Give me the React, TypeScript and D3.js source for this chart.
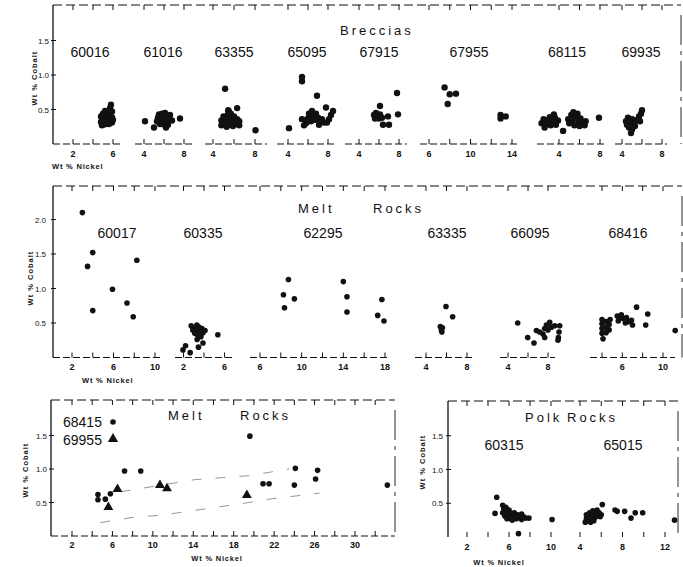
import React from "react";
import * as d3 from "d3";

type P = [number, number];

// ---------- Breccias (wt % Ni, wt % Co) ----------
const b60016: P[] = [[4.8,0.32],[4.8,0.40],[5.0,0.28],[5.0,0.36],[5.0,0.44],[5.3,0.29],[5.3,0.37],[5.3,0.45],[5.6,0.29],[5.6,0.37],[5.6,0.45],[5.9,0.31],[5.9,0.39],[5.9,0.47],[6.0,0.35],[5.7,0.52],[5.8,0.57],[5.2,0.48],[4.9,0.27],[5.15,0.33],[5.45,0.41],[5.75,0.33],[5.45,0.33]];
const b61016: P[] = [[5.4,0.38],[5.5,0.43],[5.7,0.35],[5.8,0.44],[5.9,0.30],[6.0,0.38],[6.1,0.45],[6.2,0.33],[6.3,0.40],[6.4,0.28],[6.5,0.36],[6.6,0.42],[6.8,0.34],[5.6,0.29],[6.1,0.27],[5.3,0.33],[5.85,0.39],[6.25,0.37],[4.1,0.33],[5.0,0.24],[6.2,0.24],[7.6,0.37]];
const b63355: P[] = [[4.8,0.27],[4.8,0.34],[5.0,0.40],[5.1,0.30],[5.3,0.25],[5.3,0.35],[5.4,0.42],[5.6,0.28],[5.6,0.36],[5.7,0.44],[5.9,0.26],[5.9,0.34],[6.0,0.40],[6.2,0.29],[6.3,0.36],[6.5,0.27],[6.5,0.33],[5.5,0.47],[5.15,0.80],[5.45,0.49],[6.3,0.52],[8.05,0.20]];
const b65095: P[] = [[5.8,0.30],[6.0,0.37],[6.1,0.44],[6.3,0.33],[6.4,0.48],[6.5,0.40],[6.7,0.35],[6.8,0.44],[7.0,0.38],[7.2,0.33],[7.4,0.36],[7.6,0.31],[7.9,0.31],[8.1,0.36],[8.3,0.42],[8.5,0.48],[5.6,0.27],[7.1,0.28],[5.4,0.91],[5.4,0.97],[6.9,0.70],[7.8,0.53],[4.1,0.23],[5.4,0.36]];
const b67915: P[] = [[5.5,0.42],[5.7,0.45],[5.9,0.40],[6.1,0.43],[5.6,0.37],[6.0,0.37],[6.3,0.38],[6.1,0.55],[6.9,0.40],[6.4,0.28],[7.0,0.28],[7.8,0.74],[7.9,0.43]];
const b67955: P[] = [[7.5,0.82],[8.0,0.72],[8.6,0.73],[7.8,0.58],[12.9,0.42],[12.9,0.37],[13.4,0.40]];
const b68115: P[] = [[2.3,0.30],[2.5,0.36],[2.7,0.28],[2.9,0.34],[3.1,0.39],[3.2,0.27],[3.4,0.33],[3.6,0.38],[3.7,0.28],[3.9,0.34],[2.6,0.24],[3.5,0.43],[4.9,0.36],[5.0,0.30],[5.2,0.42],[5.3,0.33],[5.5,0.27],[5.6,0.38],[5.8,0.44],[5.9,0.32],[6.1,0.37],[6.3,0.30],[6.5,0.27],[6.6,0.33],[5.4,0.46],[6.0,0.26],[4.4,0.19],[7.9,0.38]];
const b69935: P[] = [[4.4,0.33],[4.6,0.38],[4.8,0.30],[5.0,0.36],[5.2,0.31],[4.7,0.24],[5.0,0.21],[4.9,0.16],[5.3,0.26],[5.5,0.35],[5.7,0.40],[5.9,0.44],[6.0,0.49],[5.8,0.33],[4.5,0.28],[5.05,0.28]];

// ---------- Melt rocks ----------
const m60017: P[] = [[3.0,2.10],[4.0,1.52],[3.5,1.32],[8.25,1.41],[5.9,0.99],[4.0,0.68],[7.3,0.79],[7.9,0.59]];
const m60335: P[] = [[3.4,0.39],[3.0,0.42],[3.8,0.42],[3.3,0.47],[3.6,0.35],[3.1,0.35],[3.9,0.36],[3.5,0.44],[4.1,0.39],[2.9,0.40],[3.4,0.32],[3.7,0.30],[2.75,0.46],[5.35,0.33],[3.33,0.26],[3.9,0.21],[3.46,0.15],[2.65,0.07],[1.95,0.11],[2.2,0.17]];
const m62295: P[] = [[8.73,1.13],[8.25,0.91],[8.35,0.72],[9.3,0.85],[14.0,1.10],[14.35,0.88],[14.35,0.66],[17.7,0.84],[17.3,0.61],[17.9,0.53]];
const m63335: P[] = [[5.95,0.74],[6.6,0.59],[5.4,0.45],[5.5,0.40],[5.6,0.43],[5.55,0.37]];
const m66095: P[] = [[4.97,0.50],[5.97,0.29],[6.6,0.21],[6.84,0.39],[7.17,0.37],[7.5,0.34],[7.67,0.42],[7.84,0.47],[8.17,0.51],[8.34,0.44],[8.67,0.46],[9.17,0.46],[9.1,0.37],[9.04,0.29],[9.0,0.25],[7.67,0.29],[8.0,0.40]];
const m68416: P[] = [[4.0,0.35],[4.0,0.42],[4.0,0.49],[4.0,0.55],[4.4,0.36],[4.4,0.44],[4.4,0.52],[4.7,0.40],[4.7,0.48],[4.8,0.55],[4.1,0.27],[5.5,0.60],[5.8,0.58],[5.6,0.53],[6.1,0.56],[6.4,0.58],[6.6,0.52],[6.9,0.54],[7.0,0.47],[5.9,0.62],[6.3,0.50],[7.4,0.73],[8.5,0.63],[8.3,0.47],[11.2,0.39]];

// ---------- Melt rocks (bottom left) ----------
const m68415: P[] = [[4.57,0.62],[4.57,0.54],[5.3,0.55],[5.8,0.63],[7.2,0.97],[8.8,0.97],[19.6,1.49],[20.9,0.78],[21.5,0.78],[24.0,0.76],[24.1,1.01],[26.1,0.85],[26.3,0.98],[33.2,0.76]];
const m69955: P[] = [[5.6,0.43],[6.5,0.70],[10.7,0.76],[11.4,0.71],[19.3,0.61]];
const envelopeUpper: P[] = [[6.8,0.66],[14.1,0.84],[19.5,0.90],[23.5,1.0]];
const envelopeLower: P[] = [[4.8,0.20],[8.1,0.28],[10.8,0.31],[19.1,0.49],[21.5,0.55],[26.5,0.64]];

// ---------- Polk rocks ----------
const p60315: P[] = [[5.4,0.47],[5.5,0.42],[5.7,0.44],[5.4,0.36],[5.7,0.37],[6.0,0.40],[5.6,0.31],[5.9,0.33],[6.2,0.35],[5.8,0.27],[6.1,0.28],[6.4,0.30],[6.5,0.36],[6.8,0.33],[6.7,0.27],[7.0,0.29],[7.2,0.34],[7.4,0.30],[7.6,0.28],[7.9,0.28],[6.3,0.25],[7.2,0.26],[4.83,0.59],[4.67,0.35],[10.1,0.26],[6.9,0.05]];
const p65015: P[] = [[4.6,0.27],[4.6,0.33],[4.8,0.24],[4.9,0.30],[4.9,0.36],[5.1,0.27],[5.2,0.33],[5.2,0.39],[5.4,0.29],[5.5,0.35],[5.6,0.40],[5.7,0.31],[5.8,0.36],[5.9,0.30],[6.0,0.33],[4.5,0.22],[5.0,0.22],[5.3,0.24],[6.1,0.48],[7.3,0.40],[7.5,0.38],[8.2,0.38],[8.8,0.28],[9.2,0.36],[9.9,0.36],[12.9,0.25]];

// tick values
const ticks246 = [2, 4, 6];
const ticks468 = [4, 6, 8];
const lab26 = [2, 6];
const lab48 = [4, 8];

const FONT = "'Liberation Sans', Arial, sans-serif";

type Sub = {
  label: string; pts: P[]; tri?: P[]; dom: [number, number]; px: [number, number];
  ticks: number[]; labels: number[]; axis: [number, number]; labelX: number;
};
type Panel = {
  left: number; right: number; top: number; bottom: number; unit: number;
  yTicks: number[]; yLabGap: number; yTitle: [number, number]; xTitle: [number, number, string];
  tickLabY: number; sampleY: number; titles: [string, number, number][]; subs: Sub[];
  r: number; bottomLine: boolean; envelopes?: P[][];
};

const panels: Panel[] = [
  {
    left: 53, right: 681, top: 5, bottom: 144, unit: 69, yTicks: [0.5, 1.0, 1.5], yLabGap: 4,
    yTitle: [37, 78], xTitle: [52, 169, "start"], tickLabY: 157, sampleY: 57,
    titles: [["Breccias", 340, 35]], r: 3.2, bottomLine: true,
    subs: [
      { label: "60016", pts: b60016, dom: [2, 6], px: [73, 113], ticks: ticks246, labels: lab26, axis: [53, 123], labelX: 90 },
      { label: "61016", pts: b61016, dom: [4, 8], px: [144, 184], ticks: ticks468, labels: lab48, axis: [135, 193], labelX: 163 },
      { label: "63355", pts: b63355, dom: [4, 8], px: [213, 255], ticks: ticks468, labels: lab48, axis: [205, 267], labelX: 234 },
      { label: "65095", pts: b65095, dom: [4, 8], px: [288, 328], ticks: ticks468, labels: lab48, axis: [277, 337], labelX: 307 },
      { label: "67915", pts: b67915, dom: [4, 8], px: [359, 399], ticks: ticks468, labels: lab48, axis: [345, 407], labelX: 379 },
      { label: "67955", pts: b67955, dom: [6, 14], px: [429, 512], ticks: [6, 8, 10, 12, 14], labels: [6, 10, 14], axis: [420, 517], labelX: 469 },
      { label: "68115", pts: b68115, dom: [4, 8], px: [559, 600], ticks: ticks468, labels: lab48, axis: [537, 607], labelX: 567 },
      { label: "69935", pts: b69935, dom: [4, 8], px: [622, 662], ticks: ticks468, labels: lab48, axis: [615, 667], labelX: 641 },
    ],
  },
  {
    left: 53, right: 682, top: 186, bottom: 357.5, unit: 69, yTicks: [0.5, 1.0, 1.5, 2.0], yLabGap: 7,
    yTitle: [33, 278], xTitle: [82, 383, "start"], tickLabY: 370, sampleY: 238,
    titles: [["Melt", 298, 213], ["Rocks", 373, 213]], r: 2.8, bottomLine: true,
    subs: [
      { label: "60017", pts: m60017, dom: [2, 10], px: [72, 155], ticks: [2, 4, 6, 8, 10], labels: [2, 6, 10], axis: [53, 160], labelX: 117 },
      { label: "60335", pts: m60335, dom: [2, 6], px: [183.5, 224.5], ticks: [2, 4, 6], labels: [2, 6], axis: [175, 232], labelX: 203 },
      { label: "62295", pts: m62295, dom: [6, 18], px: [260, 385], ticks: [6, 8, 10, 12, 14, 16, 18], labels: [6, 10, 14, 18], axis: [250, 390], labelX: 323 },
      { label: "63335", pts: m63335, dom: [4, 8], px: [426, 467], ticks: ticks468, labels: lab48, axis: [415, 472], labelX: 447 },
      { label: "66095", pts: m66095, dom: [4, 8], px: [508, 548], ticks: ticks468, labels: lab48, axis: [500, 555], labelX: 530 },
      { label: "68416", pts: m68416, dom: [4, 10], px: [602, 663], ticks: [4, 6, 8, 10], labels: [6, 10], axis: [590, 675], labelX: 628 },
    ],
  },
  {
    left: 51, right: 395, top: 400, bottom: 536, unit: 67, yTicks: [0.5, 1.0, 1.5], yLabGap: 4,
    yTitle: [28, 470], xTitle: [217, 561, "middle"], tickLabY: 548, sampleY: 0,
    titles: [["Melt", 168, 420], ["Rocks", 240, 420]], r: 2.8, bottomLine: true,
    envelopes: [envelopeUpper, envelopeLower],
    subs: [
      { label: "", pts: m68415, tri: m69955, dom: [2, 30], px: [72, 355], ticks: d3.range(2, 34, 2), labels: [2, 6, 10, 14, 18, 22, 26, 30], axis: [51, 395], labelX: 0 },
    ],
  },
  {
    left: 448, right: 678, top: 401, bottom: 537, unit: 67.5, yTicks: [0.5, 1.0, 1.5], yLabGap: 5,
    yTitle: [425, 462], xTitle: [499, 565, "middle"], tickLabY: 550, sampleY: 450,
    titles: [["Polk", 525, 422], ["Rocks", 567, 422]], r: 2.8, bottomLine: false,
    subs: [
      { label: "60315", pts: p60315, dom: [2, 10], px: [467, 551], ticks: [2, 4, 6, 8, 10], labels: [2, 6, 10], axis: [448, 560], labelX: 504 },
      { label: "65015", pts: p65015, dom: [4, 12], px: [580, 665], ticks: [4, 6, 8, 10, 12], labels: [4, 8, 12], axis: [570, 678], labelX: 623 },
    ],
  },
];

const INK = "#111";

function PanelView({ p }: { p: Panel }) {
  const y = d3.scaleLinear().domain([0, 1]).range([p.bottom, p.bottom - p.unit]);
  const subs = p.subs.map((s) => ({ s, x: d3.scaleLinear().domain(s.dom).range(s.px) }));
  const tri = d3.symbol().type(d3.symbolTriangle).size(42);
  const envLine = (x: d3.ScaleLinear<number, number>) =>
    d3.line<P>().x((d) => x(d[0])).y((d) => y(d[1]));
  return (
    <g>
      <line x1={p.left} x2={p.right} y1={p.top} y2={p.top} stroke={INK} strokeWidth={1.1} strokeDasharray="9 4" />
      <line x1={p.left} x2={p.left} y1={p.top} y2={p.bottom} stroke={INK} strokeWidth={1.3} />
      <line x1={p.right} x2={p.right} y1={p.top + 10} y2={p.bottom} stroke={INK} strokeWidth={0.9} strokeDasharray="30 6 4 6" />
      {p.yTicks.map((t) => (
        <g key={t}>
          <line x1={p.left - 2} x2={p.left + 3} y1={y(t)} y2={y(t)} stroke={INK} strokeWidth={1} />
          <text x={p.left - p.yLabGap} y={y(t) + 3} fontSize={8} fontFamily={FONT} textAnchor="end" fill={INK}>
            {d3.format(".1f")(t)}
          </text>
        </g>
      ))}
      <text
        transform={`translate(${p.yTitle[0]},${p.yTitle[1]}) rotate(-90)`}
        fontSize={7.5} fontWeight="bold" fontFamily={FONT} textAnchor="middle" letterSpacing={1} fill={INK}
      >
        Wt % Cobalt
      </text>
      <text x={p.xTitle[0]} y={p.xTitle[1]} fontSize={7.5} fontWeight="bold" fontFamily={FONT}
        textAnchor={p.xTitle[2] as any} letterSpacing={0.8} fill={INK}>
        Wt % Nickel
      </text>
      {p.titles.map(([t, tx, ty]) => (
        <text key={t} x={tx} y={ty} fontSize={13} fontFamily={FONT} letterSpacing={3} fill={INK}>{t}</text>
      ))}
      {subs.map(({ s, x }, i) => (
        <g key={i}>
          {p.bottomLine && (
            <line x1={s.axis[0]} x2={s.axis[1]} y1={p.bottom} y2={p.bottom} stroke={INK} strokeWidth={1.1} strokeDasharray="7 3" />
          )}
          {s.ticks.map((t) => (
            <g key={t}>
              <line x1={x(t)} x2={x(t)} y1={p.bottom} y2={p.bottom - 5} stroke={INK} strokeWidth={1} />
              <line x1={x(t)} x2={x(t)} y1={p.top} y2={p.top + 5} stroke={INK} strokeWidth={1} />
            </g>
          ))}
          {s.labels.map((t) => (
            <text key={t} x={x(t)} y={p.tickLabY} fontSize={9} fontWeight="bold" fontFamily={FONT} textAnchor="middle" fill={INK}>
              {t}
            </text>
          ))}
          {s.label && (
            <text x={s.labelX} y={p.sampleY} fontSize={14} fontFamily={FONT} textAnchor="middle" fill={INK}>
              {s.label}
            </text>
          )}
          {p.envelopes &&
            p.envelopes.map((e, k) => (
              <path key={k} d={envLine(x)(e) || ""} fill="none" stroke="#8a8a8a" strokeWidth={0.9} strokeDasharray="10 14" />
            ))}
          {s.pts.map((d, k) => (
            <circle key={k} cx={x(d[0])} cy={y(d[1])} r={p.r} fill={INK} />
          ))}
          {s.tri &&
            s.tri.map((d, k) => (
              <path key={"t" + k} d={tri() || ""} transform={`translate(${x(d[0])},${y(d[1])})`} fill={INK} />
            ))}
        </g>
      ))}
    </g>
  );
}

export default function App() {
  const tri = d3.symbol().type(d3.symbolTriangle).size(46);
  return (
    <svg width={683} height={567} style={{ position: "absolute", left: 0, top: 0, background: "#fff" }}>
      <rect width={683} height={567} fill="#fff" />
      {panels.map((p, i) => (
        <PanelView key={i} p={p} />
      ))}
      <text x={63} y={427} fontSize={14} fontFamily={FONT} fill={INK}>68415</text>
      <circle cx={113} cy={422} r={2.8} fill={INK} />
      <text x={63} y={445} fontSize={14} fontFamily={FONT} fill={INK}>69955</text>
      <path d={tri() || ""} transform="translate(113,439)" fill={INK} />
    </svg>
  );
}
